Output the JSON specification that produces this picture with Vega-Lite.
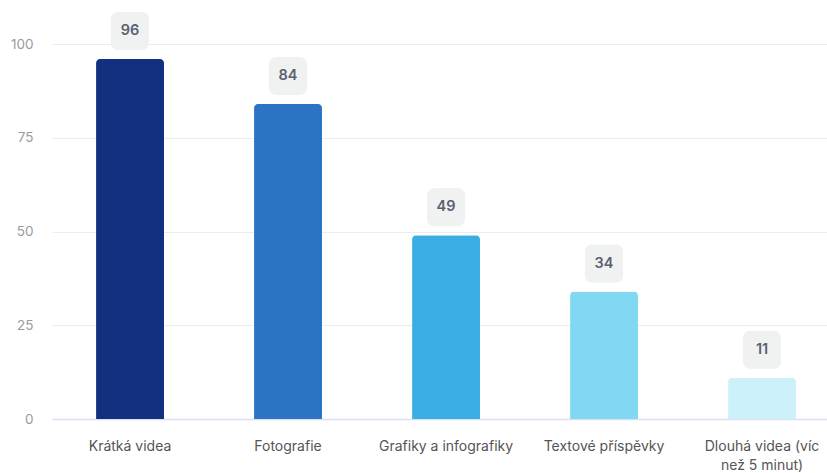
{
  "$schema": "https://vega.github.io/schema/vega-lite/v6.json",
  "width": 775,
  "height": 375,
  "autosize": {"type": "none"},
  "padding": {"left": 52, "top": 44, "right": 0, "bottom": 54},
  "background": "white",
  "config": {
    "view": {"stroke": null},
    "font": "Inter"
  },
  "data": {
    "values": [
      {"kategorie": "Krátká videa", "hodnota": 96, "barva": "#132f80"},
      {"kategorie": "Fotografie", "hodnota": 84, "barva": "#2c73c4"},
      {"kategorie": "Grafiky a infografiky", "hodnota": 49, "barva": "#3aade4"},
      {"kategorie": "Textové příspěvky", "hodnota": 34, "barva": "#80d8f3"},
      {"kategorie": "Dlouhá videa (víc než 5 minut)", "hodnota": 11, "barva": "#cdf1fa"}
    ]
  },
  "encoding": {
    "x": {
      "field": "kategorie",
      "type": "nominal",
      "sort": null,
      "scale": {"paddingInner": 0.57, "paddingOuter": 0.2375, "align": 0.587},
      "axis": {
        "title": null,
        "labelAngle": 0,
        "labelFontSize": 14,
        "labelColor": "#555555",
        "labelPadding": 20,
        "labelLineHeight": 19,
        "labelExpr": "datum.label == 'Dlouhá videa (víc než 5 minut)' ? ['Dlouhá videa (víc', 'než 5 minut)'] : datum.label",
        "ticks": false,
        "domainColor": "#dcdff2",
        "domainWidth": 1.5,
        "grid": false
      }
    }
  },
  "layer": [
    {
      "mark": {"type": "bar", "cornerRadiusTopLeft": 4, "cornerRadiusTopRight": 4},
      "encoding": {
        "y": {
          "field": "hodnota",
          "type": "quantitative",
          "scale": {"domain": [0, 100], "nice": false},
          "axis": {
            "title": null,
            "values": [0, 25, 50, 75, 100],
            "labelFontSize": 13.5,
            "labelColor": "#9a9a9a",
            "labelPadding": 19,
            "ticks": false,
            "domain": false,
            "gridColor": "#ececec",
            "gridWidth": 1
          }
        },
        "color": {"field": "barva", "type": "nominal", "scale": null, "legend": null}
      }
    },
    {
      "mark": {"type": "bar", "width": 38, "cornerRadius": 7, "color": "#f0f1f1", "yOffset": -9, "y2Offset": -47},
      "encoding": {
        "y": {"field": "hodnota", "type": "quantitative"},
        "y2": {"field": "hodnota"}
      }
    },
    {
      "mark": {"type": "text", "fontSize": 14.5, "fontWeight": 600, "color": "#5a5f72", "dy": -28},
      "encoding": {
        "y": {"field": "hodnota", "type": "quantitative"},
        "text": {"field": "hodnota", "type": "quantitative"}
      }
    }
  ]
}
